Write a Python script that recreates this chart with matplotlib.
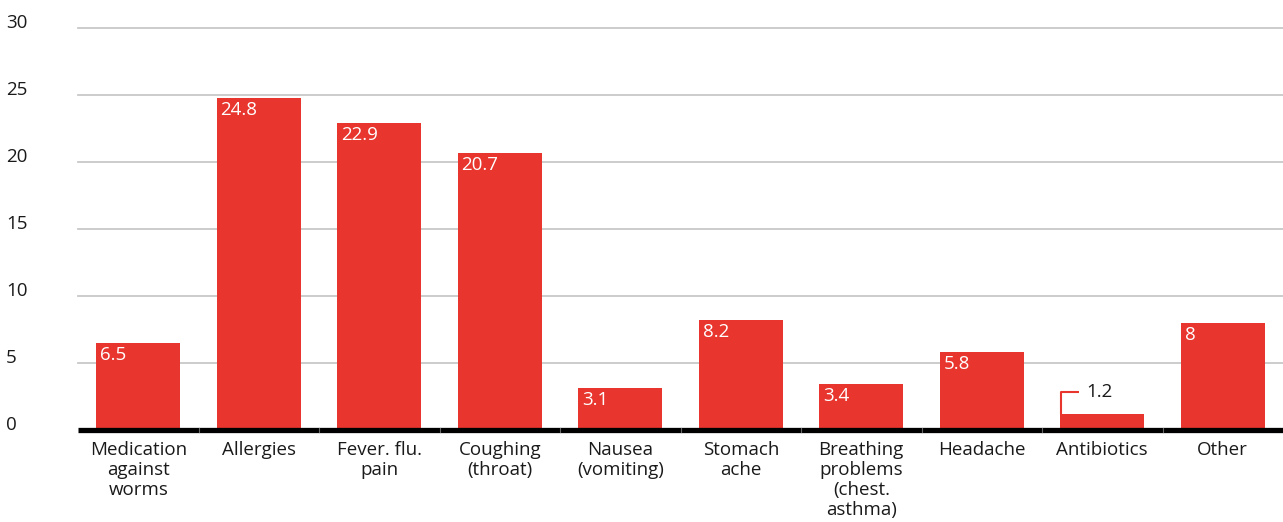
import matplotlib
matplotlib.use("Agg")
import matplotlib.pyplot as plt
import numpy as np

categories = ["Medication\nagainst\nworms", "Allergies", "Fever. flu.\npain",
              "Coughing\n(throat)", "Nausea\n(vomiting)", "Stomach\nache",
              "Breathing\nproblems\n(chest.\nasthma)", "Headache", "Antibiotics", "Other"]
values = [6.5, 24.8, 22.9, 20.7, 3.1, 8.2, 3.4, 5.8, 1.2, 8]
labels = ["6.5", "24.8", "22.9", "20.7", "3.1", "8.2", "3.4", "5.8", "1.2", "8"]
yticks = [0, 5, 10, 15, 20, 25, 30]

RED = "#e8352e"
FS = 13.5
plt.rcParams["font.family"] = ["Open Sans", "DejaVu Sans"]

fig = plt.figure(figsize=(12.83, 5.22), dpi=100)
W, H = 1283, 522
ax = fig.add_axes([78 / W, 92 / H, (W - 78) / W, (430 - 28) / H])

x = np.arange(len(values))
bw = 0.7
ax.bar(x, values, width=bw, color=RED, zorder=3)
ax.set_xlim(-0.5, len(values) - 0.5)
ax.set_ylim(0, 30)

for yt in yticks[1:]:
    ax.axhline(yt, color="#c8c8c8", lw=1.3, zorder=1, clip_on=False)

# value labels
px_per_unit = (430 - 28) / 30.0
for xi, v, lab in zip(x, values, labels):
    if v * px_per_unit > 25:
        ax.annotate(lab, (xi - bw / 2, v), xytext=(4, -3), textcoords="offset pixels",
                    ha="left", va="top", color="white", fontsize=FS, zorder=4)
    else:
        # bracket callout above small bar
        x0 = xi - bw / 2
        trans = ax.transData
        p0 = trans.transform((x0, v))
        pts = [(p0[0] + 1, p0[1]), (p0[0] + 1, p0[1] + 22), (p0[0] + 19, p0[1] + 22)]
        dpts = trans.inverted().transform(pts)
        ax.plot(dpts[:, 0], dpts[:, 1], color=RED, lw=1.5, zorder=4, clip_on=False,
                solid_capstyle="butt")
        ax.annotate(lab, (x0, v), xytext=(26, 22), textcoords="offset pixels",
                    ha="left", va="center", color="#1a1a1a", fontsize=FS, zorder=4)

# baseline
ax.axhline(0, color="black", lw=3.8, zorder=5, clip_on=False, solid_capstyle="butt")
for b in np.arange(1, len(values)) - 0.5:
    ax.axvline(b, ymin=-0.006, ymax=0.004, color="#666666", lw=0.8, zorder=6, clip_on=False)

for s in ax.spines.values():
    s.set_visible(False)
ax.set_xticks(x)
ax.set_xticklabels(categories, fontsize=FS, color="#1a1a1a", linespacing=1.15)
ax.tick_params(axis="x", length=0, pad=8)
ax.set_yticks(yticks)
ax.set_yticklabels([str(t) for t in yticks], fontsize=FS, color="#1a1a1a")
ax.tick_params(axis="y", length=0)
for t in ax.get_yticklabels():
    t.set_horizontalalignment("left")
    t.set_x(-67 / (W - 78))
    t.set_verticalalignment("baseline")

fig.savefig("out.png", dpi=100)
